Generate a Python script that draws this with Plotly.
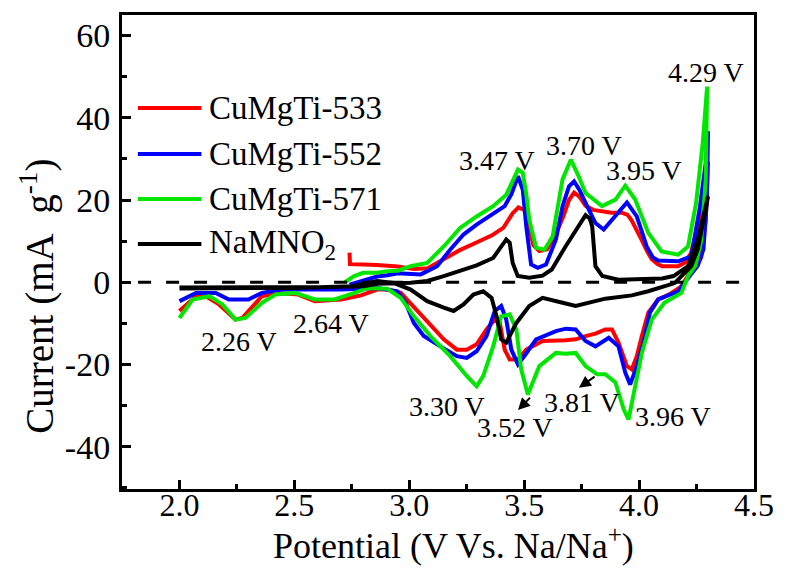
import plotly.graph_objects as go

# ---------------- data ----------------
series_names = ["CuMgTi-533", "CuMgTi-552", "CuMgTi-571", "NaMNO<sub>2</sub>"]
series_colors = ["#ff0000", "#0000ff", "#00e600", "#000000"]

v_533 = [2.74, 2.742, 2.80, 2.86, 2.95, 3.02, 3.08, 3.15, 3.22, 3.29, 3.36, 3.41, 3.45, 3.475, 3.50, 3.52, 3.54,
         3.566, 3.60, 3.64, 3.67, 3.695, 3.717, 3.74, 3.767, 3.80, 3.84, 3.88, 3.925, 3.95, 3.968, 3.99, 4.01, 4.035,
         4.055, 4.08, 4.10, 4.17, 4.20, 4.225, 4.256, 4.275, 4.284, 4.295, 4.30,
         4.29, 4.27, 4.245, 4.22, 4.184, 4.13, 4.083, 4.04, 4.012, 3.99, 3.968, 3.947, 3.91, 3.882, 3.853, 3.81,
         3.767, 3.724, 3.681, 3.63, 3.58, 3.509, 3.473, 3.437, 3.415, 3.394, 3.372, 3.336, 3.293, 3.25, 3.207, 3.15,
         3.078, 3.006, 2.963, 2.905, 2.86, 2.79, 2.704, 2.589, 2.517, 2.431, 2.359, 2.273, 2.244, 2.172, 2.115,
         2.072, 2.0]
i_533 = [7.2, 4.4, 4.3, 4.2, 3.8, 3.2, 3.4, 5.6, 7.8, 9.6, 11.4, 13.3, 16.8, 18.2, 17.6, 14.0, 9.0,
         7.6, 8.0, 12.0, 16.0, 20.0, 21.8, 20.8, 18.6, 17.6, 17.2, 16.9, 16.9, 16.4, 15.0, 12.8, 10.4, 7.5,
         5.6, 4.4, 3.9, 3.9, 4.8, 7.0, 13.6, 19.0, 21.7, 27.0, 29.4,
         15.0, 6.0, 3.5, 2.3, -1.0, -3.0, -4.2, -7.4, -13.1, -18.0, -21.2, -20.4, -14.7, -11.5, -11.5, -12.5,
         -13.1, -13.9, -14.1, -14.2, -14.3, -16.4, -18.8, -18.8, -16.4, -9.9, -9.1, -11.5, -15.1, -16.4, -16.4, -13.9,
         -9.5, -5.0, -2.6, -1.8, -1.8, -3.2, -4.2, -4.6, -3.0, -2.6, -3.4, -8.7, -9.1, -5.4, -3.4,
         -3.4, -7.0]

v_552 = [2.74, 2.79, 2.86, 2.905, 2.95, 3.05, 3.121, 3.178, 3.236, 3.293, 3.365, 3.415, 3.445, 3.473, 3.494,
         3.509, 3.53, 3.559, 3.595, 3.638, 3.667, 3.695, 3.717, 3.74, 3.767, 3.81, 3.846, 3.897, 3.947, 3.99, 4.033,
         4.06, 4.083, 4.17, 4.227, 4.263, 4.292, 4.30,
         4.295, 4.28, 4.255, 4.22, 4.17, 4.083, 4.047, 4.019, 3.99, 3.961, 3.94, 3.91, 3.868, 3.81, 3.767, 3.724,
         3.681, 3.638, 3.552, 3.50, 3.473, 3.444, 3.422, 3.40, 3.372, 3.336, 3.293, 3.25, 3.207, 3.135, 3.063, 3.02,
         2.984, 2.948, 2.862, 2.704, 2.445, 2.359, 2.30, 2.215, 2.158, 2.072, 2.0]
i_552 = [-0.6, 0.2, 1.4, 1.7, 2.2, 1.9, 3.9, 7.9, 11.6, 14.0, 16.5, 18.5, 21.5, 25.8, 22.5,
         13.6, 4.3, 3.5, 4.3, 10.4, 18.5, 23.3, 24.5, 22.5, 19.3, 14.4, 12.8, 16.0, 19.4, 16.0, 8.7,
         6.0, 5.3, 5.1, 6.3, 17.7, 29.8, 36.7,
         20.0, 8.0, 4.0, 1.5, -2.2, -4.2, -7.4, -14.7, -20.4, -24.9, -22.0, -15.6, -13.5, -15.6, -14.3, -11.5,
         -11.3, -11.9, -13.9, -18.0, -20.0, -16.4, -9.1, -5.8, -7.0, -13.1, -16.8, -18.4, -18.0, -15.6, -13.1, -9.9,
         -5.0, -2.2, -1.4, -1.8, -1.8, -2.6, -4.2, -4.2, -2.6, -2.6, -4.6]

v_571 = [2.72, 2.76, 2.80, 2.86, 2.905, 2.95, 3.006, 3.078, 3.15, 3.221, 3.293, 3.365, 3.422, 3.45, 3.473, 3.494,
         3.51, 3.522, 3.552, 3.588, 3.624, 3.667, 3.703, 3.735, 3.767, 3.839, 3.897, 3.94, 3.983, 4.04, 4.098, 4.17,
         4.213, 4.248, 4.277, 4.296,
         4.29, 4.27, 4.245, 4.213, 4.184, 4.11, 4.055, 4.012, 3.983, 3.954, 3.933, 3.897, 3.853, 3.818, 3.767, 3.724,
         3.681, 3.638, 3.566, 3.516, 3.487, 3.466, 3.437, 3.40, 3.365, 3.322, 3.293, 3.25, 3.178, 3.092, 3.02, 2.963,
         2.905, 2.819, 2.762, 2.675, 2.589, 2.503, 2.417, 2.359, 2.287, 2.244, 2.187, 2.13, 2.057, 2.0]
i_571 = [0.0, 1.5, 2.3, 2.3, 2.7, 2.8, 3.9, 4.7, 8.7, 13.2, 16.0, 18.5, 21.3, 24.5, 27.4, 26.6,
         21.0, 15.2, 8.4, 7.9, 11.2, 25.0, 29.8, 26.0, 21.7, 18.5, 20.1, 23.5, 20.1, 12.0, 7.5, 6.7,
         8.7, 19.3, 33.9, 47.6,
         25.0, 10.0, 4.0, 1.5, -2.6, -5.0, -9.1, -17.2, -25.3, -33.4, -30.9, -24.4, -22.4, -22.4, -20.4, -17.2,
         -17.4, -17.2, -20.4, -27.3, -21.2, -11.5, -7.8, -8.3, -15.6, -22.8, -25.3, -22.8, -18.0, -13.1, -8.3, -3.8,
         -1.6, -1.4, -2.6, -4.2, -4.2, -2.6, -3.0, -5.0, -8.7, -9.1, -5.4, -3.4, -4.2, -8.7]

v_na = [2.0, 2.3, 2.6, 2.8, 2.862, 3.006, 3.078, 3.15, 3.22, 3.293, 3.365, 3.40, 3.422, 3.437, 3.45, 3.472, 3.522,
        3.58, 3.62, 3.68, 3.738, 3.767, 3.785, 3.796, 3.81, 3.84, 3.91, 4.10, 4.15, 4.213, 4.256, 4.30,
        4.284, 4.255, 4.227, 4.155, 4.04, 3.968, 3.853, 3.76, 3.724, 3.667, 3.58, 3.522, 3.466, 3.422, 3.40, 3.38,
        3.358, 3.322, 3.279, 3.236, 3.193, 3.15, 3.078, 3.006, 2.934, 2.86, 2.75, 2.5, 2.0]
i_na = [-1.3, -1.3, -1.2, -1.0, -0.4, -0.1, 0.3, 1.5, 2.7, 4.1, 5.9, 8.7, 10.4, 9.6, 4.7, 1.5, 1.1,
        1.6, 3.1, 8.7, 13.6, 16.3, 15.5, 13.6, 3.9, 1.5, 0.6, 0.9, 1.5, 3.9, 10.4, 20.9,
        16.0, 8.0, 3.9, -0.2, -2.2, -3.2, -4.0, -5.2, -5.8, -5.0, -3.8, -5.8, -9.9, -14.7, -13.9, -8.3,
        -3.8, -2.2, -3.0, -5.4, -7.0, -6.2, -4.6, -1.8, -0.2, 0.3, -1.0, -1.4, -1.5]

x_tick_vals = [2.0, 2.5, 3.0, 3.5, 4.0, 4.5]
x_tick_text = ["2.0", "2.5", "3.0", "3.5", "4.0", "4.5"]
y_tick_vals = [-40, -20, 0, 20, 40, 60]
y_tick_text = ["-40", "-20", "0", "20", "40", "60"]

# peak labels: text, x (V), y (mA/g) of label centre
peak_text = ["3.47 V", "3.70 V", "3.95 V", "4.29 V", "2.26 V", "2.64 V", "3.30 V", "3.52 V", "3.81 V", "3.96 V"]
peak_x = [3.381, 3.762, 4.022, 4.289, 2.259, 2.661, 3.164, 3.461, 3.751, 4.146]
peak_y = [29.6, 33.2, 27.1, 51.1, -14.5, -10.0, -30.3, -35.3, -29.2, -32.6]

# arrows: tail (x, y) -> head (x, y)
arrow_tail_x = [3.532, 3.813]
arrow_tail_y = [-27.7, -22.7]
arrow_head_x = [3.473, 3.738]
arrow_head_y = [-31.1, -25.7]

# ---------------- figure ----------------
FONT = "Liberation Serif, Times New Roman, serif"
fig = go.Figure()
all_v = [v_533, v_552, v_571, v_na]
all_i = [i_533, i_552, i_571, i_na]
for name, col, vv, ii in zip(series_names, series_colors, all_v, all_i):
    fig.add_trace(go.Scatter(x=vv, y=ii, mode="lines", name=name,
                             line=dict(color=col, width=4), showlegend=False))

# zero dashed line
fig.add_shape(type="line", xref="x", yref="y", x0=1.82, x1=4.47, y0=0, y1=0,
              line=dict(color="black", width=3, dash="13px,15px"))

# peak labels
for t, px, py in zip(peak_text, peak_x, peak_y):
    fig.add_annotation(x=px, y=py, text=t, showarrow=False, xanchor="center", yanchor="middle",
                       font=dict(family=FONT, size=28, color="black"))
for tx, ty, hx, hy in zip(arrow_tail_x, arrow_tail_y, arrow_head_x, arrow_head_y):
    fig.add_annotation(x=hx, y=hy, ax=tx, ay=ty, axref="x", ayref="y", text="", showarrow=True,
                       arrowhead=2, arrowsize=1.2, arrowwidth=2, arrowcolor="black")

# custom legend (paper coordinates)
W, H = 786, 581
L, R, T, B = 122, 27, 15, 92
pw, ph = W - L - R, H - T - B
def px2paper(px, py):
    return (px - L) / pw, (H - B - py) / ph
leg_rows = [108, 154, 199, 244]
for name, col, ry in zip(series_names, series_colors, leg_rows):
    x0, y0 = px2paper(138, ry)
    x1, _ = px2paper(202, ry)
    fig.add_shape(type="line", xref="paper", yref="paper", x0=x0, x1=x1, y0=y0, y1=y0,
                  line=dict(color=col, width=4))
    tx, _ = px2paper(208, ry)
    fig.add_annotation(xref="paper", yref="paper", x=tx, y=y0, text=name, showarrow=False,
                       xanchor="left", yanchor="middle", font=dict(family=FONT, size=33, color="black"))

# axis titles as annotations
ax_t_x, ax_t_y = px2paper(456, 543)
fig.add_annotation(xref="paper", yref="paper", x=ax_t_x, y=ax_t_y,
                   text="Potential (V Vs. Na/Na<sup>+</sup>)", showarrow=False,
                   xanchor="center", yanchor="middle", font=dict(family=FONT, size=36, color="black"))
ay_t_x, ay_t_y = px2paper(36, 296)
fig.add_annotation(xref="paper", yref="paper", x=ay_t_x, y=ay_t_y,
                   text="Current (mA\u00a0\u00a0g<sup>-1</sup>)", showarrow=False, textangle=-90,
                   xanchor="center", yanchor="middle", font=dict(family=FONT, size=39, color="black"))

axis_common = dict(showline=True, linecolor="black", linewidth=3, mirror=True, ticks="inside",
                   ticklen=9, tickwidth=3, tickcolor="black", showgrid=False, zeroline=False)
fig.update_xaxes(range=[1.75, 4.5], tickvals=x_tick_vals, ticktext=x_tick_text,
                 tickfont=dict(family=FONT, size=32, color="black"),
                 minor=dict(ticks="inside", ticklen=5, tickwidth=3, tickcolor="black", dtick=0.25, tick0=2.25),
                 ticklabelstandoff=-14, **axis_common)
fig.update_yaxes(range=[-50.3, 65], tickvals=y_tick_vals, ticktext=y_tick_text,
                 tickfont=dict(family=FONT, size=34, color="black"),
                 minor=dict(ticks="inside", ticklen=5, tickwidth=3, tickcolor="black", dtick=10, tick0=-50),
                 ticklabelstandoff=2, **axis_common)

fig.update_layout(width=W, height=H, margin=dict(l=L, r=R, t=T, b=B),
                  plot_bgcolor="white", paper_bgcolor="white",
                  font=dict(family=FONT, color="black"))
fig.write_html("out.html")
